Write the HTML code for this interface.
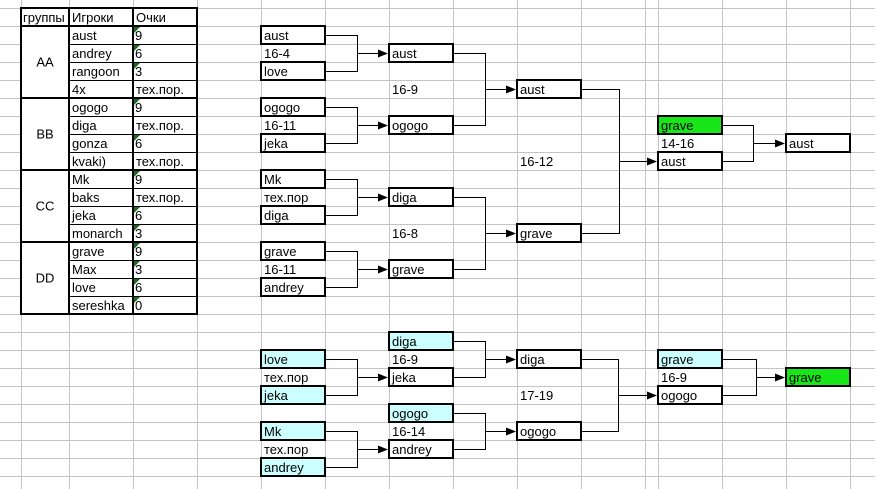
<!DOCTYPE html>
<html>
<head>
<meta charset="utf-8">
<style>
html,body{margin:0;padding:0;background:#fff;}
body{width:875px;height:489px;overflow:hidden;}
svg{display:block;}
text{font-family:"Liberation Sans",Arial,sans-serif;font-size:13px;fill:#000;}
</style>
</head>
<body>
<svg width="875" height="489" viewBox="0 0 875 489" xmlns="http://www.w3.org/2000/svg">
<rect x="0" y="0" width="875" height="489" fill="#fff"/>
<!-- gridlines -->
<g stroke="#c4c4c4" stroke-width="1" shape-rendering="crispEdges">
<line x1="0" y1="8.5" x2="875" y2="8.5"/>
<line x1="0" y1="26.5" x2="875" y2="26.5"/>
<line x1="0" y1="44.5" x2="875" y2="44.5"/>
<line x1="0" y1="62.5" x2="875" y2="62.5"/>
<line x1="0" y1="80.5" x2="875" y2="80.5"/>
<line x1="0" y1="98.5" x2="875" y2="98.5"/>
<line x1="0" y1="116.5" x2="875" y2="116.5"/>
<line x1="0" y1="134.5" x2="875" y2="134.5"/>
<line x1="0" y1="152.5" x2="875" y2="152.5"/>
<line x1="0" y1="170.5" x2="875" y2="170.5"/>
<line x1="0" y1="188.5" x2="875" y2="188.5"/>
<line x1="0" y1="206.5" x2="875" y2="206.5"/>
<line x1="0" y1="224.5" x2="875" y2="224.5"/>
<line x1="0" y1="242.5" x2="875" y2="242.5"/>
<line x1="0" y1="260.5" x2="875" y2="260.5"/>
<line x1="0" y1="278.5" x2="875" y2="278.5"/>
<line x1="0" y1="296.5" x2="875" y2="296.5"/>
<line x1="0" y1="314.5" x2="875" y2="314.5"/>
<line x1="0" y1="332.5" x2="875" y2="332.5"/>
<line x1="0" y1="350.5" x2="875" y2="350.5"/>
<line x1="0" y1="368.5" x2="875" y2="368.5"/>
<line x1="0" y1="386.5" x2="875" y2="386.5"/>
<line x1="0" y1="404.5" x2="875" y2="404.5"/>
<line x1="0" y1="422.5" x2="875" y2="422.5"/>
<line x1="0" y1="440.5" x2="875" y2="440.5"/>
<line x1="0" y1="458.5" x2="875" y2="458.5"/>
<line x1="0" y1="476.5" x2="875" y2="476.5"/>
<line x1="21.5" y1="0" x2="21.5" y2="489"/>
<line x1="69.5" y1="0" x2="69.5" y2="489"/>
<line x1="133.5" y1="0" x2="133.5" y2="489"/>
<line x1="197.5" y1="0" x2="197.5" y2="489"/>
<line x1="261.5" y1="0" x2="261.5" y2="489"/>
<line x1="325.5" y1="0" x2="325.5" y2="489"/>
<line x1="389.5" y1="0" x2="389.5" y2="489"/>
<line x1="453.5" y1="0" x2="453.5" y2="489"/>
<line x1="517.5" y1="0" x2="517.5" y2="489"/>
<line x1="581.5" y1="0" x2="581.5" y2="489"/>
<line x1="645.5" y1="0" x2="645.5" y2="489"/>
<line x1="658.5" y1="0" x2="658.5" y2="489"/>
<line x1="722.5" y1="0" x2="722.5" y2="489"/>
<line x1="786.5" y1="0" x2="786.5" y2="489"/>
<line x1="850.5" y1="0" x2="850.5" y2="489"/>
</g>

<!-- TABLE -->
<rect x="21" y="8" width="176" height="306" fill="#fff"/>
<g stroke="#000" shape-rendering="crispEdges">
<g stroke-width="1">
<line x1="69" y1="44.5" x2="197" y2="44.5"/>
<line x1="69" y1="62.5" x2="197" y2="62.5"/>
<line x1="69" y1="80.5" x2="197" y2="80.5"/>
<line x1="69" y1="116.5" x2="197" y2="116.5"/>
<line x1="69" y1="134.5" x2="197" y2="134.5"/>
<line x1="69" y1="152.5" x2="197" y2="152.5"/>
<line x1="69" y1="188.5" x2="197" y2="188.5"/>
<line x1="69" y1="206.5" x2="197" y2="206.5"/>
<line x1="69" y1="224.5" x2="197" y2="224.5"/>
<line x1="69" y1="260.5" x2="197" y2="260.5"/>
<line x1="69" y1="278.5" x2="197" y2="278.5"/>
<line x1="69" y1="296.5" x2="197" y2="296.5"/>
</g>
<g stroke-width="2">
<line x1="21" y1="26" x2="197" y2="26"/>
<line x1="21" y1="98" x2="197" y2="98"/>
<line x1="21" y1="170" x2="197" y2="170"/>
<line x1="21" y1="242" x2="197" y2="242"/>
<line x1="69" y1="8" x2="69" y2="314"/>
<line x1="133" y1="8" x2="133" y2="314"/>
<rect x="21" y="8" width="176" height="306" fill="none"/>
</g>
</g>
<!-- green indicators -->
<g fill="#1c6b1c">
<polygon points="134,27 140,27 134,33"/>
<polygon points="134,45 140,45 134,51"/>
<polygon points="134,63 140,63 134,69"/>
<polygon points="134,99 140,99 134,105"/>
<polygon points="134,135 140,135 134,141"/>
<polygon points="134,171 140,171 134,177"/>
<polygon points="134,207 140,207 134,213"/>
<polygon points="134,225 140,225 134,231"/>
<polygon points="134,243 140,243 134,249"/>
<polygon points="134,261 140,261 134,267"/>
<polygon points="134,279 140,279 134,285"/>
<polygon points="134,297 140,297 134,303"/>
</g>
<text x="23" y="22">группы</text>
<text x="72" y="22">Игроки</text>
<text x="136" y="22">Очки</text>
<text x="45" y="66.5" text-anchor="middle">AA</text>
<text x="45" y="138.5" text-anchor="middle">BB</text>
<text x="45" y="210.5" text-anchor="middle">CC</text>
<text x="45" y="282.5" text-anchor="middle">DD</text>
<text x="72" y="40">aust</text><text x="135" y="40">9</text>
<text x="72" y="58">andrey</text><text x="135" y="58">6</text>
<text x="72" y="76">rangoon</text><text x="135" y="76">3</text>
<text x="72" y="94">4x</text><text x="136" y="94">тех.пор.</text>
<text x="72" y="112">ogogo</text><text x="135" y="112">9</text>
<text x="72" y="130">diga</text><text x="136" y="130">тех.пор.</text>
<text x="72" y="148">gonza</text><text x="135" y="148">6</text>
<text x="72" y="166">kvaki)</text><text x="136" y="166">тех.пор.</text>
<text x="72" y="184">Mk</text><text x="135" y="184">9</text>
<text x="72" y="202">baks</text><text x="136" y="202">тех.пор.</text>
<text x="72" y="220">jeka</text><text x="135" y="220">6</text>
<text x="72" y="238">monarch</text><text x="135" y="238">3</text>
<text x="72" y="256">grave</text><text x="135" y="256">9</text>
<text x="72" y="274">Max</text><text x="135" y="274">3</text>
<text x="72" y="292">love</text><text x="135" y="292">6</text>
<text x="72" y="310">sereshka</text><text x="135" y="310">0</text>

<!-- CONNECTORS -->
<g stroke="#000" stroke-width="1" fill="none" shape-rendering="crispEdges">
<!-- upper F->H -->
<path d="M326 35.5H357.5V71.5H326M357.5 53.5H380"/>
<path d="M326 107.5H357.5V143.5H326M357.5 125.5H380"/>
<path d="M326 179.5H357.5V215.5H326M357.5 197.5H380"/>
<path d="M326 251.5H357.5V287.5H326M357.5 269.5H380"/>
<!-- upper H->J -->
<path d="M454 53.5H485.5V125.5H454M485.5 89.5H508"/>
<path d="M454 197.5H485.5V269.5H454M485.5 233.5H508"/>
<!-- J->L -->
<path d="M582 89.5H619.5V233.5H582M619.5 161.5H649"/>
<!-- L->N -->
<path d="M723 125.5H753.5V161.5H723M753.5 143.5H777"/>
<!-- lower F->H -->
<path d="M326 359.5H357.5V395.5H326M357.5 377.5H380"/>
<path d="M326 431.5H357.5V467.5H326M357.5 449.5H380"/>
<!-- lower H->J -->
<path d="M454 341.5H485.5V377.5H454M485.5 359.5H508"/>
<path d="M454 413.5H485.5V449.5H454M485.5 431.5H508"/>
<!-- lower J->L -->
<path d="M582 359.5H618.5V431.5H582M618.5 395.5H649"/>
<!-- lower L->N -->
<path d="M723 359.5H756.5V395.5H723M756.5 377.5H777"/>
</g>
<g fill="#000">
<polygon points="378,49.5 388,53.5 378,57.5"/>
<polygon points="378,121.5 388,125.5 378,129.5"/>
<polygon points="378,193.5 388,197.5 378,201.5"/>
<polygon points="378,265.5 388,269.5 378,273.5"/>
<polygon points="506,85.5 516,89.5 506,93.5"/>
<polygon points="506,229.5 516,233.5 506,237.5"/>
<polygon points="647,157.5 657,161.5 647,165.5"/>
<polygon points="775,139.5 785,143.5 775,147.5"/>
<polygon points="378,373.5 388,377.5 378,381.5"/>
<polygon points="378,445.5 388,449.5 378,453.5"/>
<polygon points="506,355.5 516,359.5 506,363.5"/>
<polygon points="506,427.5 516,431.5 506,435.5"/>
<polygon points="647,391.5 657,395.5 647,399.5"/>
<polygon points="775,373.5 785,377.5 775,381.5"/>
</g>

<!-- BOXES -->
<g stroke="#000" stroke-width="2" shape-rendering="crispEdges">
<!-- upper F -->
<rect x="261" y="26" width="64" height="18" fill="#fff"/>
<rect x="261" y="62" width="64" height="18" fill="#fff"/>
<rect x="261" y="98" width="64" height="18" fill="#fff"/>
<rect x="261" y="134" width="64" height="18" fill="#fff"/>
<rect x="261" y="170" width="64" height="18" fill="#fff"/>
<rect x="261" y="206" width="64" height="18" fill="#fff"/>
<rect x="261" y="242" width="64" height="18" fill="#fff"/>
<rect x="261" y="278" width="64" height="18" fill="#fff"/>
<!-- upper H -->
<rect x="389" y="44" width="64" height="18" fill="#fff"/>
<rect x="389" y="116" width="64" height="18" fill="#fff"/>
<rect x="389" y="188" width="64" height="18" fill="#fff"/>
<rect x="389" y="260" width="64" height="18" fill="#fff"/>
<!-- upper J -->
<rect x="517" y="80" width="64" height="18" fill="#fff"/>
<rect x="517" y="224" width="64" height="18" fill="#fff"/>
<!-- upper L -->
<rect x="658" y="116" width="64" height="18" fill="#19e619"/>
<rect x="658" y="152" width="64" height="18" fill="#fff"/>
<!-- upper N -->
<rect x="786" y="134" width="64" height="18" fill="#fff"/>
<!-- lower F -->
<rect x="261" y="350" width="64" height="18" fill="#ccffff"/>
<rect x="261" y="386" width="64" height="18" fill="#ccffff"/>
<rect x="261" y="422" width="64" height="18" fill="#ccffff"/>
<rect x="261" y="458" width="64" height="18" fill="#ccffff"/>
<!-- lower H -->
<rect x="389" y="332" width="64" height="18" fill="#ccffff"/>
<rect x="389" y="368" width="64" height="18" fill="#fff"/>
<rect x="389" y="404" width="64" height="18" fill="#ccffff"/>
<rect x="389" y="440" width="64" height="18" fill="#fff"/>
<!-- lower J -->
<rect x="517" y="350" width="64" height="18" fill="#fff"/>
<rect x="517" y="422" width="64" height="18" fill="#fff"/>
<!-- lower L -->
<rect x="658" y="350" width="64" height="18" fill="#ccffff"/>
<rect x="658" y="386" width="64" height="18" fill="#fff"/>
<!-- lower N -->
<rect x="786" y="368" width="64" height="18" fill="#19e619"/>
</g>

<!-- BRACKET TEXT upper -->
<text x="264" y="40">aust</text>
<text x="264" y="58">16-4</text>
<text x="264" y="76">love</text>
<text x="264" y="112">ogogo</text>
<text x="264" y="130">16-11</text>
<text x="264" y="148">jeka</text>
<text x="264" y="184">Mk</text>
<text x="264" y="202">тех.пор</text>
<text x="264" y="220">diga</text>
<text x="264" y="256">grave</text>
<text x="264" y="274">16-11</text>
<text x="264" y="292">andrey</text>
<text x="392" y="58">aust</text>
<text x="392" y="94">16-9</text>
<text x="392" y="130">ogogo</text>
<text x="392" y="202">diga</text>
<text x="392" y="238">16-8</text>
<text x="392" y="274">grave</text>
<text x="520" y="94">aust</text>
<text x="520" y="166">16-12</text>
<text x="520" y="238">grave</text>
<text x="661" y="130">grave</text>
<text x="661" y="148">14-16</text>
<text x="661" y="166">aust</text>
<text x="789" y="148">aust</text>

<!-- BRACKET TEXT lower -->
<text x="264" y="364">love</text>
<text x="264" y="382">тех.пор</text>
<text x="264" y="400">jeka</text>
<text x="264" y="436">Mk</text>
<text x="264" y="454">тех.пор</text>
<text x="264" y="472">andrey</text>
<text x="392" y="346">diga</text>
<text x="392" y="364">16-9</text>
<text x="392" y="382">jeka</text>
<text x="392" y="418">ogogo</text>
<text x="392" y="436">16-14</text>
<text x="392" y="454">andrey</text>
<text x="520" y="364">diga</text>
<text x="520" y="400">17-19</text>
<text x="520" y="436">ogogo</text>
<text x="661" y="364">grave</text>
<text x="661" y="382">16-9</text>
<text x="661" y="400">ogogo</text>
<text x="789" y="382">grave</text>
</svg>
</body>
</html>
